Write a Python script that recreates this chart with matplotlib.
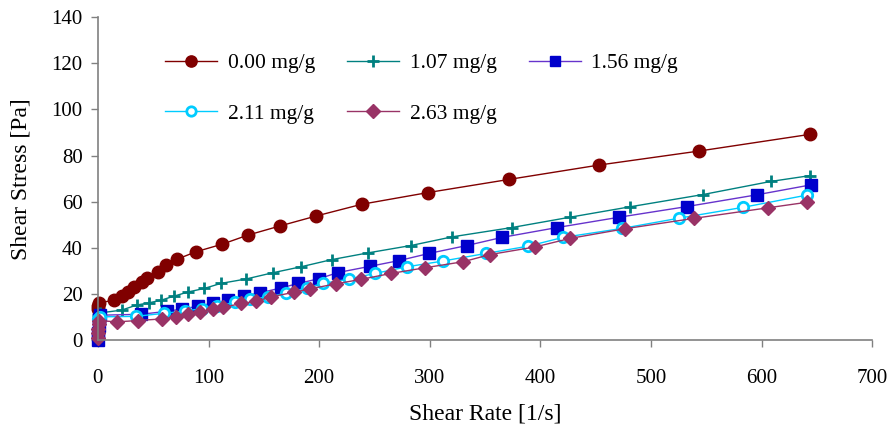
import numpy as np
import matplotlib.pyplot as plt

# shear rate [1/s] and shear stress [Pa] for each concentration
rate_000 = [0.2, 0.5, 0.9, 14.8, 21.4, 26.8, 32.9, 39.5, 44.0, 54.0, 61.5, 71.7, 88.6,
            112.4, 135.4, 164.6, 197.2, 238.5, 298.7, 372.0, 453.0, 543.8, 643.5]
stress_000 = [13.5, 15.0, 16.2, 17.3, 19.1, 20.9, 23.1, 25.0, 27.0, 29.6, 32.5, 35.1, 38.3,
              41.6, 45.5, 49.5, 53.8, 58.9, 64.0, 69.7, 75.9, 82.0, 89.2]

rate_107 = [0.3, 1.8, 21.4, 35.0, 46.4, 57.0, 69.0, 81.7, 96.1, 111.2, 133.9, 158.0, 183.6,
            211.3, 243.9, 282.8, 320.5, 374.1, 426.9, 481.0, 546.8, 608.3, 643.5]
stress_107 = [11.0, 11.8, 13.0, 15.2, 16.2, 17.3, 19.1, 20.9, 22.4, 24.6, 26.5, 29.2, 31.8,
              34.9, 37.8, 41.0, 44.8, 48.8, 53.3, 57.8, 63.1, 68.8, 71.3]

rate_156 = [0.1, 0.3, 0.6, 1.0, 1.8, 38.9, 62.3, 76.3, 90.7, 104.3, 117.6, 131.7, 146.5,
            165.4, 181.2, 199.7, 217.0, 246.0, 272.4, 299.5, 333.4, 365.0, 415.0,
            471.4, 532.4, 595.7, 644.5]
stress_156 = [0.0, 3.0, 6.0, 9.0, 10.8, 11.2, 12.5, 13.5, 14.7, 16.1, 17.3, 19.0, 20.5,
              22.6, 24.6, 26.6, 29.3, 32.0, 34.5, 37.6, 41.0, 44.5, 48.8,
              53.3, 57.9, 63.0, 67.3]

rate_211 = [0.5, 1.8, 34.0, 59.4, 78.4, 94.5, 108.0, 124.0, 137.5, 153.8, 169.9, 188.7,
            203.2, 226.7, 250.3, 279.6, 312.0, 351.0, 388.6, 420.2, 473.6, 525.7,
            583.6, 641.2]
stress_211 = [9.0, 10.1, 10.3, 11.6, 12.6, 13.7, 14.8, 16.4, 17.7, 18.8, 20.3, 22.6,
              24.6, 26.4, 28.9, 31.8, 34.3, 37.6, 40.7, 44.5, 48.4, 52.9,
              57.6, 62.9]

rate_263 = [0.1, 0.3, 0.5, 0.8, 1.2, 16.9, 35.9, 58.3, 70.9, 81.7, 92.2, 104.3, 113.3,
            129.7, 142.8, 156.7, 177.0, 191.6, 215.0, 237.5, 264.8, 296.0, 330.4,
            354.5, 395.2, 426.9, 476.6, 539.0, 606.2, 641.5]
stress_263 = [1.0, 3.0, 5.0, 7.0, 8.5, 7.9, 8.5, 9.2, 9.9, 11.2, 12.1, 13.5, 14.2,
              15.9, 16.8, 18.8, 20.7, 22.2, 24.4, 26.3, 28.9, 31.4, 34.0,
              37.1, 40.4, 44.1, 48.3, 52.8, 57.4, 59.8]

plt.rcParams['font.family'] = ['Liberation Serif', 'DejaVu Serif']
plt.rcParams['font.size'] = 15

fig = plt.figure(figsize=(8.9, 4.3), dpi=100)
ax = fig.add_axes([0.110, 0.209, 0.870, 0.751])

l0, = ax.plot(rate_000, stress_000, color='#800000', lw=1, marker='o', ms=9,
              mfc='#800000', mec='#800000', label='0.00 mg/g', clip_on=False)
l1, = ax.plot(rate_107, stress_107, color='#008080', lw=1, marker='+', ms=9, mew=2,
              label='1.07 mg/g', clip_on=False)
l2, = ax.plot(rate_156, stress_156, color='#6633CC', lw=1, marker='s', ms=8,
              mfc='#0000CC', mec='#0000CC', label='1.56 mg/g', clip_on=False)
l3, = ax.plot(rate_211, stress_211, color='#00CCFF', lw=1, marker='o', ms=7.5, mew=2,
              mfc='white', mec='#00CCFF', label='2.11 mg/g', clip_on=False)
l4, = ax.plot(rate_263, stress_263, color='#993366', lw=1, marker='D', ms=7.5,
              mfc='#993366', mec='#993366', label='2.63 mg/g', clip_on=False)

ax.set_xlim(0, 700)
ax.set_ylim(0, 140)
ax.set_xticks(np.arange(0, 701, 100))
ax.set_yticks(np.arange(0, 141, 20))

for s in ['top', 'right']:
    ax.spines[s].set_visible(False)
for s in ['left', 'bottom']:
    ax.spines[s].set_color('#808080')
    ax.spines[s].set_linewidth(1.2)
ax.tick_params(direction='out', length=5, width=1, color='#808080')
ax.tick_params(axis='x', pad=16)
ax.tick_params(axis='y', pad=6)

ax.set_xlabel('Shear Rate [1/s]', fontsize=17, labelpad=11)
ax.set_ylabel('Shear Stress [Pa]', fontsize=17, labelpad=14)

# legend fills column by column, so order entries to read across rows
handles = [l0, l3, l1, l4, l2]
ax.legend(handles=handles, labels=[h.get_label() for h in handles],
          loc='upper left', bbox_to_anchor=(0.087, 0.888), ncol=3, frameon=False,
          fontsize=15.5, handlelength=2.4, handletextpad=0.5, columnspacing=1.5,
          labelspacing=1.4, borderpad=0, borderaxespad=0, markerscale=0.9)

fig.savefig('out.png', dpi=100)
